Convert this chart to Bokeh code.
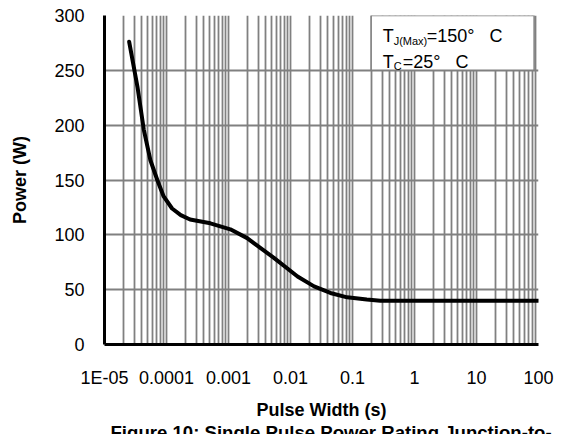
from bokeh.plotting import figure
from bokeh.models import FixedTicker, Label, BoxAnnotation, ColumnDataSource, Title
from bokeh.embed import file_html
from bokeh.resources import INLINE

# ---- data ----
pulse_width = [2.5e-5, 3.4e-5, 4.3e-5, 5.5e-5, 7.1e-5, 9.0e-5, 1.23e-4, 1.7e-4,
               2.4e-4, 5.1e-4, 1.07e-3, 2.0e-3, 5.4e-3, 1.3e-2, 2.4e-2, 4.4e-2,
               8.2e-2, 0.17, 0.28, 1.0, 10.0, 100.0]
power = [276, 235, 196, 168, 150, 135, 124, 118,
         114, 110.5, 105, 97, 79, 62, 53, 47,
         43, 41, 40, 40, 40, 40]

x_ticks = [1e-5, 1e-4, 1e-3, 1e-2, 1e-1, 1.0, 10.0, 100.0]
x_tick_labels = ["1E-05", "0.0001", "0.001", "0.01", "0.1", "1", "10", "100"]
y_ticks = [0, 50, 100, 150, 200, 250, 300]

x_label = "Pulse Width (s)"
y_label = "Power (W)"
title_text = "Figure 10: Single Pulse Power Rating Junction-to-"
note1 = ("T", "J(Max)", "=150°\u00a0\u00a0\u00a0C")
note2 = ("T", "C", "=25°\u00a0\u00a0\u00a0C")

FONT = "Liberation Sans"
GRID = "#808080"

p = figure(width=561, height=434, x_axis_type="log",
           x_range=(1e-5, 100), y_range=(0, 300),
           output_backend="svg", toolbar_location=None,
           min_border_left=104, min_border_right=23,
           min_border_top=15, min_border_bottom=90,
           x_axis_label=x_label, y_axis_label=y_label)
p.outline_line_color = None
p.background_fill_color = "white"
p.border_fill_color = "white"

minor = [d * k for d in x_ticks[:-1] for k in range(2, 10)]
p.xaxis.ticker = FixedTicker(ticks=x_ticks, minor_ticks=minor)
p.xaxis.major_label_overrides = dict(zip(x_ticks, x_tick_labels))
p.yaxis.ticker = FixedTicker(ticks=y_ticks)

for ax in (p.xaxis[0], p.yaxis[0]):
    ax.axis_line_color = "black"
    ax.axis_line_width = 3
    ax.major_tick_line_color = None
    ax.minor_tick_line_color = None
    ax.major_tick_out = 0
    ax.major_tick_in = 0
    ax.minor_tick_out = 0
    ax.minor_tick_in = 0
    ax.major_label_text_font = FONT
    ax.major_label_text_font_size = "18px"
    ax.major_label_text_color = "black"
    ax.axis_label_text_font = FONT
    ax.axis_label_text_font_size = "18px"
    ax.axis_label_text_font_style = "bold"
    ax.axis_label_text_color = "black"

p.xaxis.major_label_standoff = 23
p.xaxis.axis_label_standoff = 9
p.yaxis.major_label_standoff = 20
p.yaxis.axis_label_standoff = 21

p.xgrid.grid_line_color = GRID
p.xgrid.grid_line_width = 1.8
p.xgrid.minor_grid_line_color = GRID
p.xgrid.minor_grid_line_width = 1.8
p.ygrid.ticker = FixedTicker(ticks=y_ticks)
p.ygrid.grid_line_color = GRID
p.ygrid.grid_line_width = 1.8

src = ColumnDataSource(dict(x=pulse_width, y=power))
p.line("x", "y", source=src, line_color="black", line_width=4,
       line_cap="round", line_join="round")

# note box
p.add_layout(BoxAnnotation(left=0.2, right=85, bottom=250, top=300,
                           fill_color="white", fill_alpha=1.0,
                           line_color=GRID, line_width=1.5, line_alpha=1.0))

def lab(text, y, xoff, size):
    p.add_layout(Label(x=0.2, y=y, x_offset=xoff, text=text,
                       text_font=FONT, text_font_size=size,
                       text_baseline="middle", text_color="black"))

lab(note1[0], 281.3, 11.5, "18px")
lab(note1[1], 276.3, 22.5, "11px")
lab(note1[2], 281.3, 55.5, "18px")
lab(note2[0], 258.0, 11.5, "18px")
lab(note2[1], 253.5, 22.5, "11px")
lab(note2[2], 258.0, 31.5, "18px")

# caption below the axis, partly beyond the lower edge as in the reference
p.add_layout(Title(text="\u00a0", text_font=FONT, text_font_size="8px",
                   standoff=-5), "below")
p.add_layout(Title(text=title_text, text_font=FONT, text_font_size="18.6px",
                   text_font_style="bold", text_color="black",
                   align="left", offset=6, vertical_align="bottom",
                   standoff=-17), "below")

open("out.html", "w").write(file_html(p, INLINE))
